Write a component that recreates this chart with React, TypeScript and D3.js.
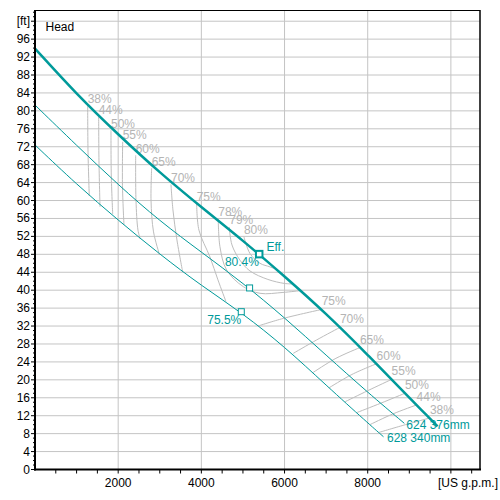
import React from 'react';
import * as d3 from 'd3';

// ---- axis ticks ----
const flowTickValues = [2000, 4000, 6000, 8000];
const flowGridValues = [2000, 4000, 6000, 8000, 10000];
const headTickValues = [0, 4, 8, 12, 16, 20, 24, 28, 32, 36, 40, 44, 48, 52, 56, 60, 64, 68, 72, 76, 80, 84, 88, 92, 96];
const headGridValues = [4, 8, 12, 16, 20, 24, 28, 32, 36, 40, 44, 48, 52, 56, 60, 64, 68, 72, 76, 80, 84, 88, 92, 96, 100];
const flowUnit = '[US g.p.m.]';
const headUnit = '[ft]';
const yTitle = 'Head';

// ---- head curves (flow US gpm, head ft) ----
const curveAFlow = [0, 1000, 2000, 3000, 4000, 5000, 6000, 7000, 8000, 9000, 9400, 9680];
const curveAHead = [93.9, 83.7, 74.7, 66.2, 58.5, 51.1, 43.1, 34.8, 25.6, 16.0, 12.3, 9.6];
const curveBFlow = [0, 1000, 2000, 3000, 4000, 5000, 6000, 7000, 8000, 8880];
const curveBHead = [81.3, 72.3, 63.5, 55.4, 48.5, 41.6, 33.9, 25.5, 17.2, 10.3];
const curveCFlow = [0, 1000, 2000, 3000, 4000, 5000, 6000, 7000, 8000, 8380];
const curveCHead = [72.4, 63.6, 55.6, 48.0, 41.0, 34.8, 27.4, 18.8, 10.4, 7.3];
const curveBLabel = '624 376mm';
const curveCLabel = '628 340mm';

// ---- duty points ----
const effPoint: [number, number] = [5385, 48.1];
const midPoint: [number, number] = [5160, 40.5];
const lowPoint: [number, number] = [4960, 35.2];
const effText = 'Eff.';
const effValue = '80.4%';
const lowValue = '75.5%';

// ---- iso-efficiency lines, left branch ----
const leftContours: [string, [number, number][]][] = [
  ['38%', [[1267, 81.3], [1274, 71.3], [1305, 61.0]]],
  ['44%', [[1531, 78.7], [1538, 69.0], [1563, 58.6]]],
  ['50%', [[1827, 75.7], [1834, 65.7], [1868, 57.0]]],
  ['55%', [[2108, 73.1], [2103, 63.4], [2139, 54.6]]],
  ['60%', [[2421, 70.1], [2428, 60.1], [2476, 53.4], [2530, 51.4]]],
  ['65%', [[2805, 67.2], [2790, 60.0], [2850, 53.0], [2995, 47.9]]],
  ['70%', [[3269, 63.6], [3317, 57.9], [3413, 51.2], [3550, 44.1]]],
  ['75%', [[3887, 59.4], [3942, 53.4], [4207, 47.4], [4399, 42.3], [4590, 37.5]]],
];
// ---- loops around the best efficiency point ----
const loopContours: [string, [number, number][]][] = [
  ['78%', [[4406, 56.0], [4447, 49.7], [4608, 44.5], [5007, 40.8], [5409, 39.3], [5962, 39.5], [6380, 39.9]]],
  ['79%', [[4671, 54.1], [4736, 50.1], [4928, 46.7], [5168, 44.3], [5600, 42.4], [6000, 41.5], [6200, 41.4]]],
  ['80%', [[5024, 51.9], [5168, 48.2], [5409, 46.0], [5649, 45.2], [5830, 44.5]]],
];
// ---- iso-efficiency lines, right branch ----
const rightContours: [string, [number, number][]][] = [
  ['75%', [[6892, 35.7], [5969, 33.7], [5361, 32.0]]],
  ['70%', [[7332, 31.7], [6772, 28.9], [6209, 25.9]]],
  ['65%', [[7813, 27.2], [7236, 24.8], [6680, 21.6]]],
  ['60%', [[8214, 23.6], [7620, 21.2], [7067, 18.2]]],
  ['55%', [[8575, 20.1], [8005, 17.6], [7452, 15.1]]],
  ['50%', [[8894, 17.0], [8317, 14.8], [7740, 12.7]]],
  ['44%', [[9175, 14.4], [8606, 12.4], [8053, 10.0]]],
  ['38%', [[9495, 11.5], [8870, 9.9], [8245, 8.2]]],
];

const TEAL = '#009a9a';
const GRID = '#c4c4c4';
const CONTOUR = '#bdbdbd';
const CLABEL = '#b4b4b4';
const FONT = 'Liberation Sans, Arial, sans-serif';

export default function App() {
  const x = d3.scaleLinear().domain([0, 10700]).range([35, 480]);
  const y = d3.scaleLinear().domain([0, 102.5]).range([469.5, 10]);

  const headLine = d3
    .line<[number, number]>()
    .x((d) => x(d[0]))
    .y((d) => y(d[1]))
    .curve(d3.curveBasis);
  const contourLine = d3
    .line<[number, number]>()
    .x((d) => x(d[0]))
    .y((d) => y(d[1]))
    .curve(d3.curveCatmullRom.alpha(0.5));

  const zip = (a: number[], b: number[]) => a.map((v, i) => [v, b[i]] as [number, number]);
  const curveA = zip(curveAFlow, curveAHead);
  const curveB = zip(curveBFlow, curveBHead);
  const curveC = zip(curveCFlow, curveCHead);

  const minorY = d3.range(0, 103, 1);
  const minorX = d3.range(500, 10700, 500);

  const bEnd = curveB[curveB.length - 1];
  const cEnd = curveC[curveC.length - 1];

  return (
    <svg
      width={500}
      height={500}
      style={{ position: 'absolute', left: 0, top: 0, background: '#fff' }}
      fontFamily={FONT}
      fontSize={12}
    >
      <rect x={0} y={0} width={500} height={500} fill="#fff" />
      {/* grid */}
      {flowGridValues.map((v) => (
        <line key={'gx' + v} x1={x(v)} x2={x(v)} y1={y(102.5)} y2={y(0)} stroke={GRID} strokeWidth={1} />
      ))}
      {headGridValues.map((v) => (
        <line key={'gy' + v} x1={x(0)} x2={x(10700)} y1={y(v)} y2={y(v)} stroke={GRID} strokeWidth={1} />
      ))}

      {/* efficiency contours */}
      {leftContours.map(([lab, pts]) => (
        <g key={'l' + lab}>
          <path d={contourLine(pts) || ''} fill="none" stroke={CONTOUR} strokeWidth={1} />
          <text x={x(pts[0][0])} y={y(pts[0][1]) - 6.5} dominantBaseline="central" fill={CLABEL}>
            {lab}
          </text>
        </g>
      ))}
      {loopContours.map(([lab, pts]) => (
        <g key={'o' + lab}>
          <path d={contourLine(pts) || ''} fill="none" stroke={CONTOUR} strokeWidth={1} />
          <text x={x(pts[0][0])} y={y(pts[0][1]) - 6.5} dominantBaseline="central" fill={CLABEL}>
            {lab}
          </text>
        </g>
      ))}
      {rightContours.map(([lab, pts]) => (
        <g key={'r' + lab}>
          <path d={contourLine(pts) || ''} fill="none" stroke={CONTOUR} strokeWidth={1} />
          <text x={x(pts[0][0])} y={y(pts[0][1]) - 8} dominantBaseline="central" fill={CLABEL}>
            {lab}
          </text>
        </g>
      ))}

      {/* head curves */}
      <path d={headLine(curveC) || ''} fill="none" stroke={TEAL} strokeWidth={1} />
      <path d={headLine(curveB) || ''} fill="none" stroke={TEAL} strokeWidth={1} />
      <path d={headLine(curveA) || ''} fill="none" stroke={TEAL} strokeWidth={2.5} />

      {/* duty points */}
      <rect x={x(lowPoint[0]) - 3} y={y(lowPoint[1]) - 3} width={6} height={6} fill="#fff" stroke={TEAL} strokeWidth={1} />
      <rect x={x(midPoint[0]) - 3} y={y(midPoint[1]) - 3} width={6} height={6} fill="#fff" stroke={TEAL} strokeWidth={1} />
      <rect x={x(effPoint[0]) - 3} y={y(effPoint[1]) - 3} width={6.5} height={6.5} fill="#fff" stroke={TEAL} strokeWidth={2} />

      <text x={x(effPoint[0]) + 7.5} y={y(effPoint[1]) - 6.5} dominantBaseline="central" fill={TEAL}>
        {effText}
      </text>
      <text x={x(effPoint[0])} y={y(effPoint[1]) + 8.5} dominantBaseline="central" textAnchor="end" fill={TEAL}>
        {effValue}
      </text>
      <text x={x(lowPoint[0])} y={y(lowPoint[1]) + 8.5} dominantBaseline="central" textAnchor="end" fill={TEAL}>
        {lowValue}
      </text>
      <text x={x(bEnd[0]) + 2} y={y(bEnd[1]) + 2} dominantBaseline="central" fill={TEAL}>
        {curveBLabel}
      </text>
      <text x={x(cEnd[0]) + 3.5} y={y(cEnd[1]) + 1.5} dominantBaseline="central" fill={TEAL}>
        {curveCLabel}
      </text>

      {/* frame */}
      <line x1={x(0)} x2={x(10700)} y1={10.5} y2={10.5} stroke="#000" strokeWidth={1} />
      <line x1={480} x2={480} y1={10} y2={470} stroke="#000" strokeWidth={1.5} />
      <line x1={x(0)} x2={x(0)} y1={10} y2={470.5} stroke="#000" strokeWidth={2} />
      <line x1={34} x2={481} y1={y(0)} y2={y(0)} stroke="#000" strokeWidth={2} />

      {/* y ticks */}
      {minorY.map((v) => (
        <line key={'my' + v} x1={x(0) - (v % 4 === 0 ? 4 : 2)} x2={x(0)} y1={y(v)} y2={y(v)} stroke="#000" strokeWidth={1} />
      ))}
      {headTickValues.map((v) => (
        <text key={'ty' + v} x={30} y={y(v)} textAnchor="end" dominantBaseline="central" fill="#000">
          {v}
        </text>
      ))}
      <text x={30} y={y(100)} textAnchor="end" dominantBaseline="central" fill="#000">
        {headUnit}
      </text>
      <text x={45.5} y={27} dominantBaseline="central" fill="#000">
        {yTitle}
      </text>

      {/* x ticks */}
      {minorX.map((v) => (
        <line key={'mx' + v} x1={x(v)} x2={x(v)} y1={y(0)} y2={y(0) + 4} stroke="#000" strokeWidth={1} />
      ))}
      {flowTickValues.map((v) => (
        <text key={'tx' + v} x={x(v)} y={482.5} textAnchor="middle" dominantBaseline="central" fill="#000">
          {v}
        </text>
      ))}
      <text x={438} y={482.5} dominantBaseline="central" fill="#000">
        {flowUnit}
      </text>
    </svg>
  );
}
